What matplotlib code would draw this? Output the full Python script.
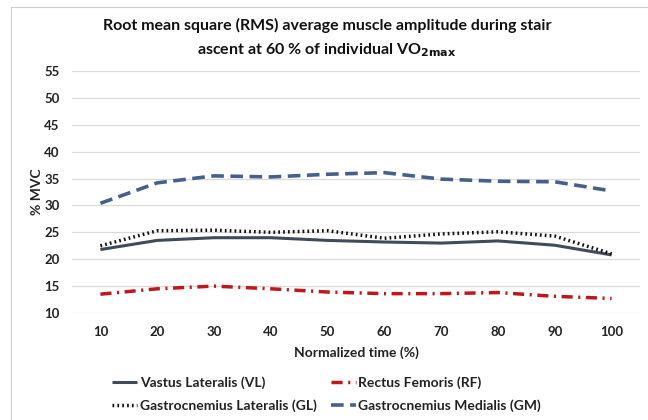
import matplotlib
matplotlib.use("Agg")
import matplotlib.pyplot as plt
from matplotlib.lines import Line2D

plt.rcParams['font.family'] = ['Lato', 'DejaVu Sans']

# data
times = [10, 20, 30, 40, 50, 60, 70, 80, 90, 100]
vl = [21.8, 23.5, 24.0, 24.0, 23.5, 23.2, 23.0, 23.4, 22.6, 20.8]
rf = [13.5, 14.5, 15.0, 14.5, 13.9, 13.6, 13.6, 13.8, 13.1, 12.7]
gl = [22.5, 25.3, 25.4, 25.0, 25.3, 23.9, 24.7, 25.1, 24.3, 21.0]
gm = [30.4, 34.2, 35.5, 35.3, 35.8, 36.1, 34.9, 34.5, 34.4, 32.7]
yticks = [10, 15, 20, 25, 30, 35, 40, 45, 50, 55]

fig = plt.figure(figsize=(6.48, 4.2), dpi=100)
ax = fig.add_axes([72/648, 1 - 313/420, (640 - 72)/648, (313 - 71)/420])

pos = list(range(len(times)))
l_vl, = ax.plot(pos, vl, color='#3f4b5a', lw=2.2, solid_capstyle='butt', label='Vastus Lateralis (VL)')
l_rf, = ax.plot(pos, rf, color='#c0161c', lw=2.5, dashes=(3.2, 1.6, 0.6, 1.6), label='Rectus Femoris (RF)')
l_gl, = ax.plot(pos, gl, color='#111111', lw=2.5, dashes=(0.5, 0.9), label='Gastrocnemius Lateralis (GL)')
l_gm, = ax.plot(pos, gm, color='#46608c', lw=2.6, dashes=(3.5, 1.8), label='Gastrocnemius Medialis (GM)')

ax.set_xlim(-0.5, len(times) - 0.5)
ax.set_ylim(10, 55)
ax.set_yticks(yticks)
ax.set_xticks(pos)
ax.set_xticklabels([str(t) for t in times])
ax.grid(axis='y', color='#d9d9d9', lw=0.9)
ax.set_axisbelow(True)
for s in ax.spines.values():
    s.set_visible(False)
ax.tick_params(length=0, labelsize=9.5, colors='#222222', pad=9)
for lab in ax.get_xticklabels() + ax.get_yticklabels():
    lab.set_fontweight('bold')

ax.set_xlabel('Normalized time (%)', fontsize=10, fontweight='bold', color='#222222', labelpad=6)
ax.set_ylabel('% MVC', fontsize=10, fontweight='bold', color='#222222', labelpad=1)

fig.text(327/648, 1 - 25/420, 'Root mean square (RMS) average muscle amplitude during stair',
         ha='center', va='center', fontsize=11.5, fontweight='bold', color='#111111')
fig.text(327/648, 1 - 50/420, r'ascent at 60 % of individual VO$_{\mathbf{2max}}$',
         ha='center', va='center', fontsize=11.5, fontweight='bold', color='#111111')

# column-wise fill: VL, GL | RF, GM  -> rows VL RF / GL GM
leg = fig.legend([l_vl, l_gl, l_rf, l_gm],
                 [l_vl.get_label(), l_gl.get_label(), l_rf.get_label(), l_gm.get_label()],
                 loc='upper left', bbox_to_anchor=(112/648, 1 - 376/420), ncol=2, frameon=False,
                 fontsize=10, handlelength=1.8, handletextpad=0.2, columnspacing=1.0,
                 labelspacing=0.75, borderpad=0, borderaxespad=0)
for t in leg.get_texts():
    t.set_fontweight('bold')
    t.set_color('#222222')

# thin frame of the chart area
fig.add_artist(Line2D([11/648, 1], [1 - 7/420, 1 - 7/420], color='#d0d0d0', lw=0.8))
fig.add_artist(Line2D([11/648, 11/648], [0, 1 - 7/420], color='#d0d0d0', lw=0.8))

fig.savefig('out.png', dpi=100)
